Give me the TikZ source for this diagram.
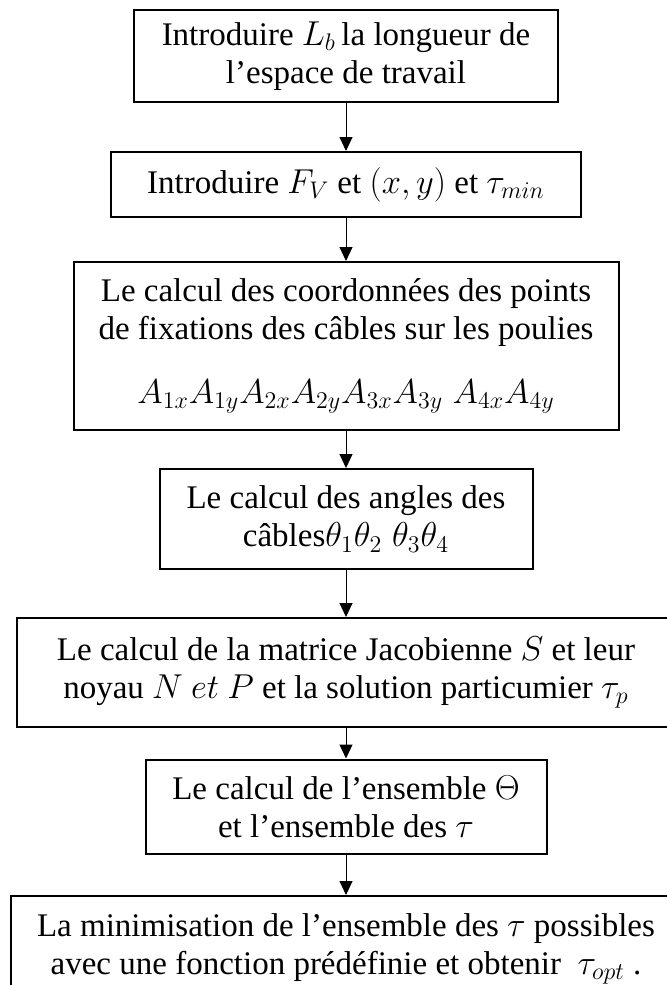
\documentclass[tikz,border=0pt]{standalone}
\usepackage{fontspec}
\setmainfont{Liberation Serif}
\usepackage{tikz}
\usetikzlibrary{arrows.meta,positioning}
\tikzset{
  box/.style={draw=black, line width=1pt, align=center, inner sep=0pt,
              font=\rmfamily\fontsize{16.5}{19}\selectfont},
  arrow/.style={-{Triangle[length=7pt,width=6.5pt]}, line width=0.5pt, draw=black}
}

\begin{document}
\begin{tikzpicture}[x=0.5pt,y=-0.5pt]
\clip (0,0) rectangle (667,985);
\node[box, minimum width=212pt, minimum height=46pt] (intro) at (346,56)
  {Introduire $L_b$\,la longueur de\\ l’espace de travail};
\node[box, minimum width=235pt, minimum height=32.5pt] (entree) at (346,184.5)
  {Introduire $F_V$ et $(x,y)$ et $\tau_{min}$};
\node[box, minimum width=272.5pt, minimum height=84pt] (coord) at (346,346)
  {Le calcul des coordonnées des points\\ de fixations des câbles sur les poulies\\[13pt]
   $A_{1x}A_{1y}A_{2x}A_{2y}A_{3x}A_{3y}\;A_{4x}A_{4y}$};
\node[box, minimum width=186.5pt, minimum height=50pt] (angles) at (346,519)
  {Le calcul des angles des\\ câbles$\theta_1\theta_2\;\theta_3\theta_4$};
\node[box, minimum width=329pt, minimum height=54.5pt] (jacob) at (346,672.5)
  {Le calcul de la matrice Jacobienne $S$ et leur\\
   noyau $N\ et\ P$ et la solution particumier $\tau_p$};
\node[box, minimum width=200.5pt, minimum height=47pt] (ensemble) at (346,806.5)
  {Le calcul de l’ensemble $\Theta$\\ et l’ensemble des $\tau$};
\node[box, minimum width=335pt, minimum height=53pt] (mini) at (346,949)
  {La minimisation de l’ensemble des $\tau$ possibles\\
   avec une fonction prédéfinie et obtenir\ \ $\tau_{opt}$ .};
\draw[arrow] (intro) -- (entree);
\draw[arrow] (entree) -- (coord);
\draw[arrow] (coord) -- (angles);
\draw[arrow] (angles) -- (jacob);
\draw[arrow] (jacob) -- (ensemble);
\draw[arrow] (ensemble) -- (mini);
\end{tikzpicture}
\end{document}
